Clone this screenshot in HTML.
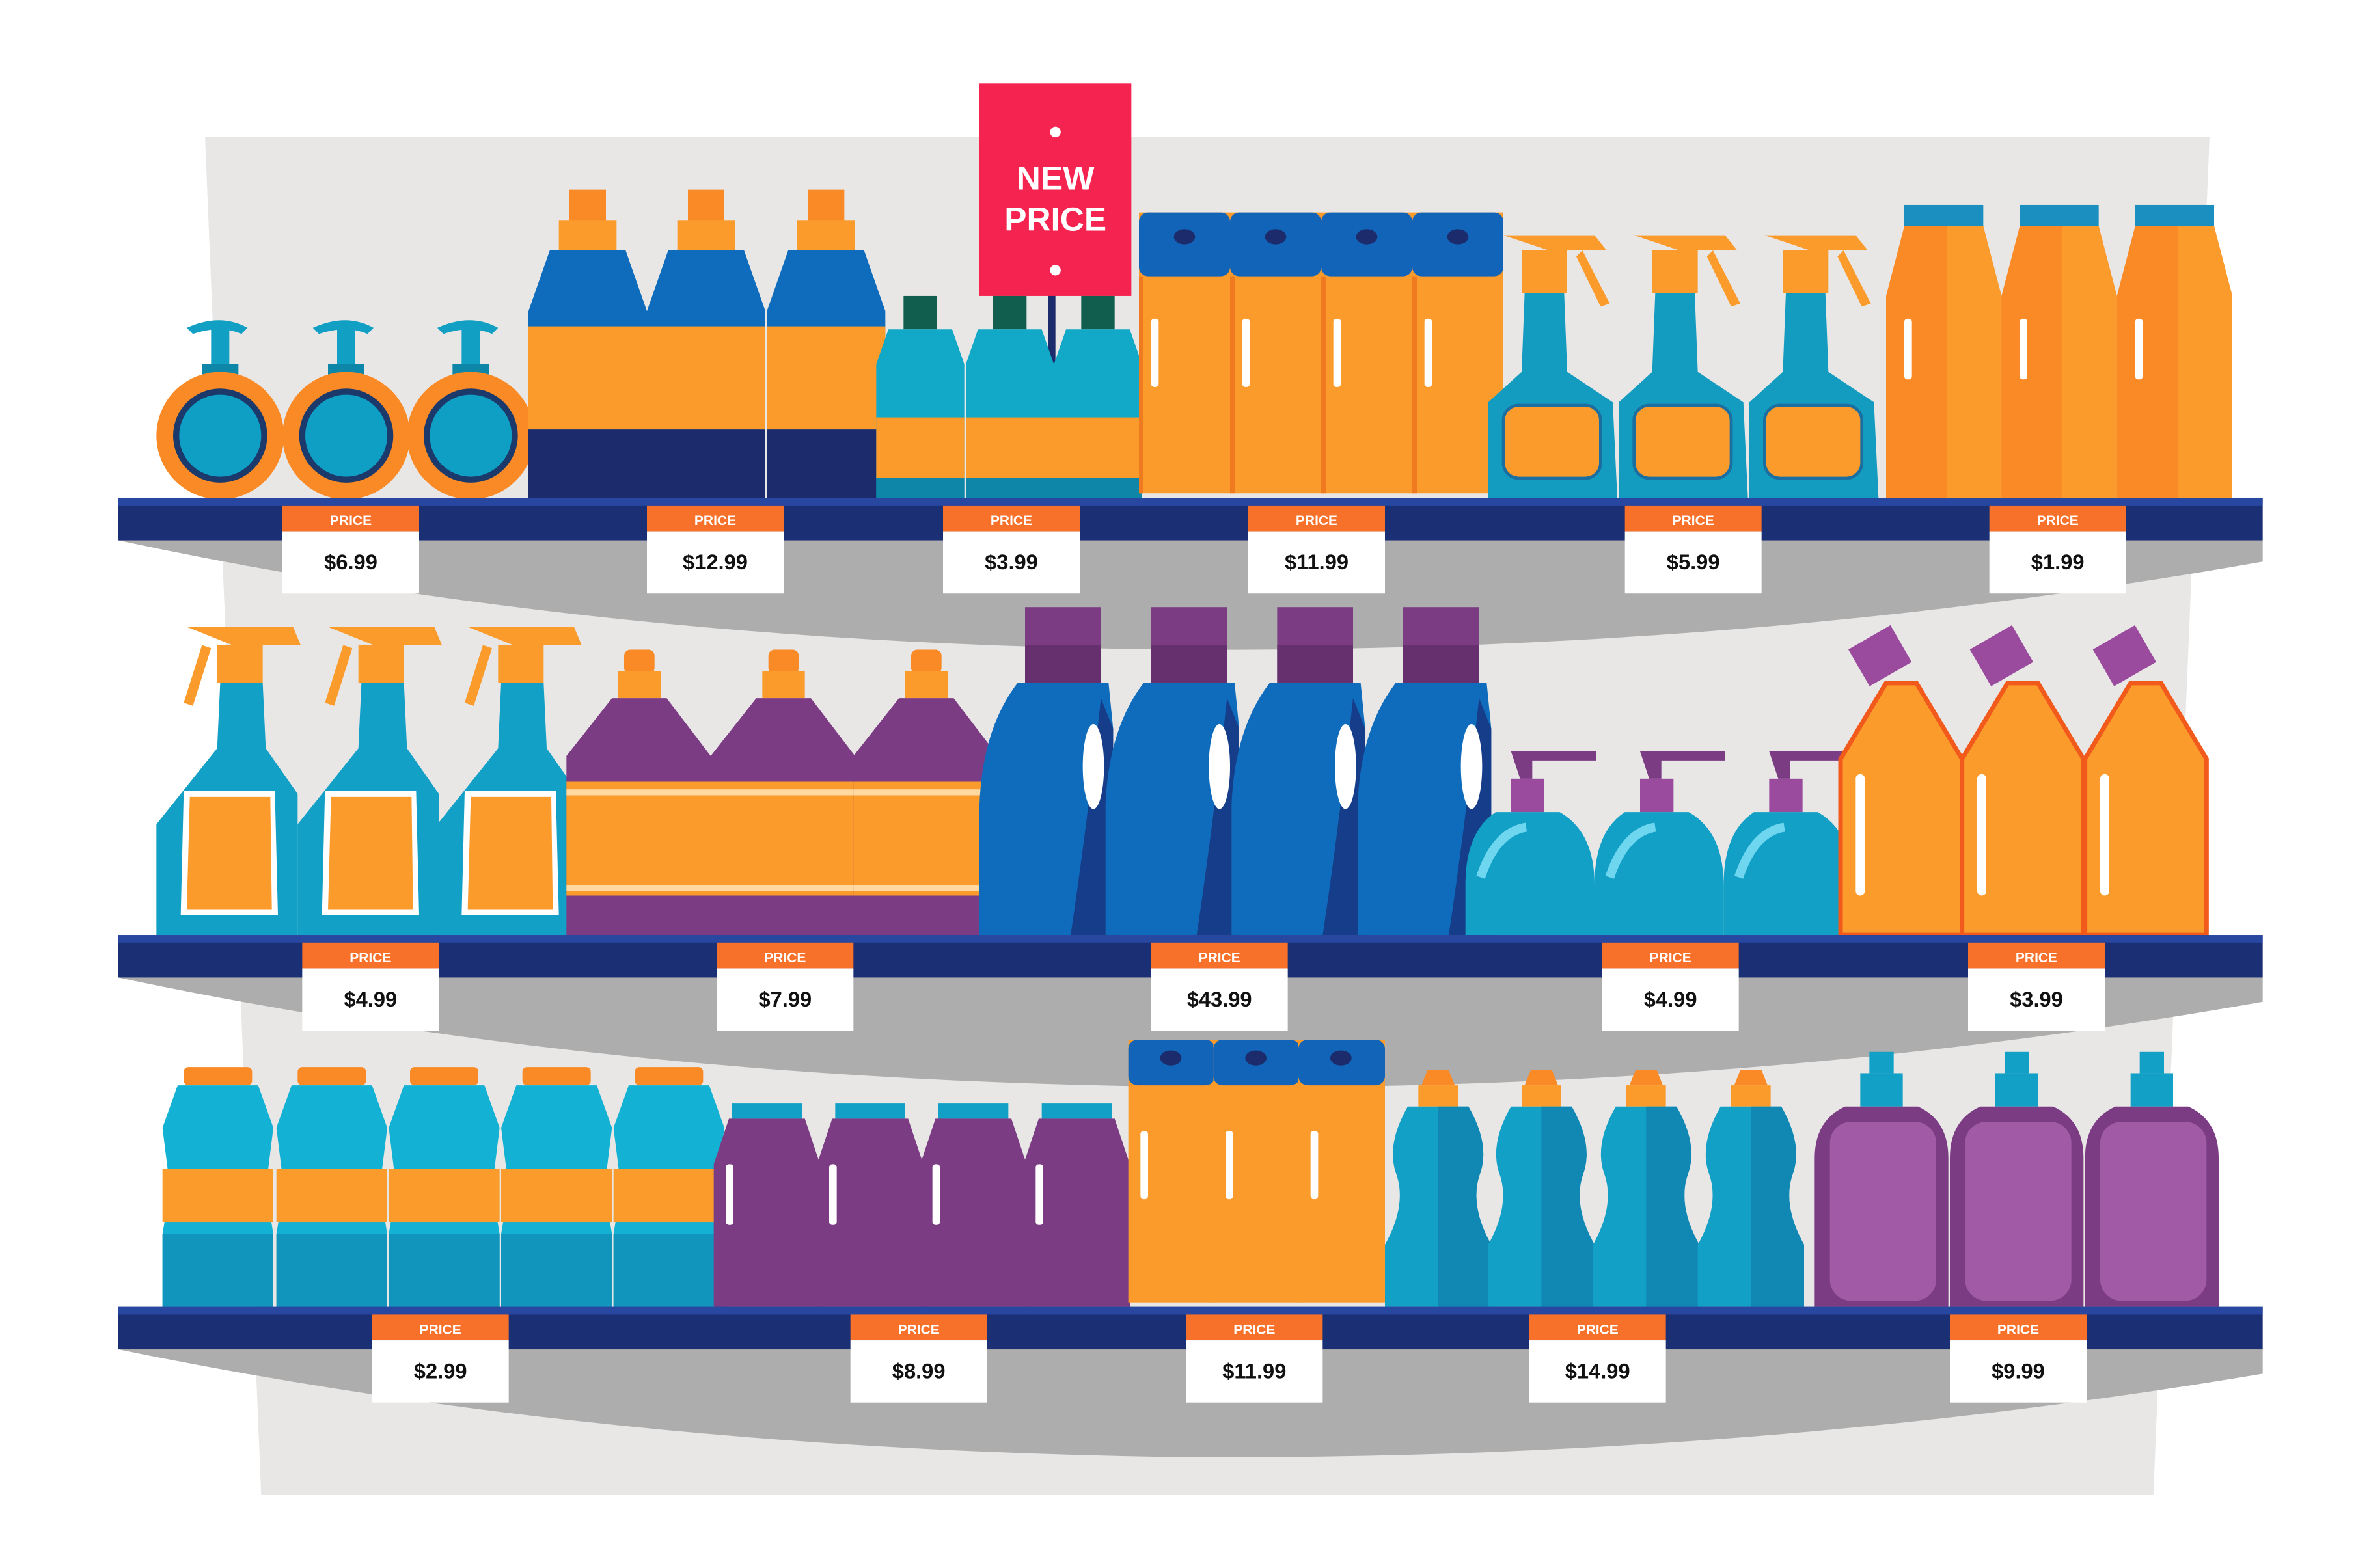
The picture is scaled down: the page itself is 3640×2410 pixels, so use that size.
<!DOCTYPE html>
<html><head><meta charset="utf-8">
<style>
html,body{margin:0;padding:0;background:#fff;}
svg{display:block;}
.t{font-family:"Liberation Sans",sans-serif;font-weight:bold;}
</style></head>
<body>
<svg width="3640" height="2410" viewBox="0 0 1560 1033" preserveAspectRatio="none" xmlns="http://www.w3.org/2000/svg">
<defs>
  <g id="round">
    <rect x="36" y="0" width="12" height="40" fill="#11a0c4"/>
    <path d="M20 4 Q42 -6 60 4 L56 8 Q42 2 24 8Z" fill="#11a0c4"/>
    <rect x="30" y="28" width="24" height="14" fill="#0d86a8"/>
    <circle cx="42" cy="75" r="42" fill="#f98a25"/>
    <circle cx="42" cy="75" r="31" fill="#1b3a6b"/>
    <circle cx="42" cy="75" r="27" fill="#0f9fc4"/>
  </g>
  <g id="bigblue">
    <rect x="27" y="0" width="24" height="22" fill="#f98a25"/>
    <rect x="20" y="20" width="38" height="20" fill="#fb9b2c"/>
    <path d="M14 40 L64 40 L78 80 L78 203 L0 203 L0 80Z" fill="#0f6cbc"/>
    <rect x="0" y="90" width="78" height="68" fill="#fb9b2c"/>
    <rect x="0" y="158" width="78" height="45" fill="#1b2b6b"/>
  </g>
  <g id="smteal">
    <rect x="18" y="0" width="22" height="22" fill="#115e4f"/>
    <path d="M8 22 L50 22 L58 45 L58 133 L0 133 L0 45Z" fill="#11a9c7"/>
    <rect x="0" y="80" width="58" height="40" fill="#fb9b2c"/>
    <rect x="0" y="120" width="58" height="13" fill="#0d86a8"/>
  </g>
  <g id="obox">
    <rect x="0" y="0" width="60" height="185" fill="#fb9b2c"/>
    <rect x="0" y="0" width="60" height="42" rx="6" fill="#1164b8"/>
    <ellipse cx="30" cy="16" rx="7" ry="5" fill="#1b2b6b"/>
    <rect x="8" y="70" width="5" height="45" rx="2" fill="#fff"/>
    <rect x="0" y="42" width="3" height="143" fill="#f07a20"/>
  </g>
  <g id="spray">
    <path d="M10 0 L70 0 L78 10 L40 10Z" fill="#fb9b2c"/>
    <path d="M62 10 L80 45 L74 47 L58 14Z" fill="#fb9b2c"/>
    <rect x="22" y="10" width="30" height="28" fill="#fb9b2c"/>
    <path d="M24 38 L50 38 L52 90 L82 110 L85 173 L0 173 L0 110 L22 90Z" fill="#139bc0"/>
    <rect x="10" y="112" width="64" height="48" rx="10" fill="#fb9b2c" stroke="#1b6fa0" stroke-width="2"/>
  </g>
  <g id="obottle">
    <rect x="12" y="0" width="52" height="14" fill="#1a8fc0"/>
    <path d="M12 14 L64 14 L76 60 L76 193 L0 193 L0 60Z" fill="#f98a25"/>
    <path d="M40 14 L64 14 L76 60 L76 193 L40 193Z" fill="#fb9b2c"/>
    <rect x="12" y="75" width="5" height="40" rx="2" fill="#fff"/>
  </g>
  <g id="spray2">
    <path d="M20 0 L90 0 L95 12 L50 12Z" fill="#fb9b2c"/>
    <path d="M30 12 L18 50 L24 52 L36 14Z" fill="#fb9b2c"/>
    <rect x="40" y="12" width="30" height="25" fill="#fb9b2c"/>
    <path d="M42 37 L70 37 L72 80 L93 110 L93 203 L0 203 L0 130 L40 80Z" fill="#13a0c6"/>
    <path d="M18 108 L78 108 L80 190 L16 190Z" fill="#fff"/>
    <path d="M22 112 L75 112 L76 186 L20 186Z" fill="#fb9b2c"/>
  </g>
  <g id="pjug">
    <rect x="38" y="0" width="20" height="16" rx="4" fill="#f98a25"/>
    <rect x="34" y="14" width="28" height="18" fill="#fb9b2c"/>
    <path d="M30 32 L66 32 L95 70 L95 188 L0 188 L0 70Z" fill="#7b3c84"/>
    <rect x="0" y="87" width="95" height="75" fill="#fb9b2c"/>
    <rect x="0" y="92" width="95" height="4" fill="#ffd9a0"/>
    <rect x="0" y="155" width="95" height="4" fill="#ffd9a0"/>
  </g>
  <g id="det">
    <rect x="30" y="0" width="50" height="50" fill="#7b3c84"/>
    <rect x="30" y="25" width="50" height="25" fill="#66306e"/>
    <path d="M25 50 L85 50 L88 80 L88 216 L0 216 L0 130 Q2 80 25 50Z" fill="#0f6cbc"/>
    <path d="M60 216 L88 216 L88 80 L80 60 Q70 150 60 216Z" fill="#163d8a"/>
    <ellipse cx="75" cy="105" rx="7" ry="28" fill="#fff"/>
  </g>
  <g id="pump">
    <path d="M30 2 L86 2 L86 8 L44 8 L44 20 L36 20Z" fill="#7b3c84"/>
    <rect x="30" y="20" width="22" height="22" fill="#9a4b9e"/>
    <path d="M20 42 L62 42 Q85 55 85 90 L85 123 L0 123 L0 90 Q0 55 20 42Z" fill="#13a0c6"/>
    <path d="M10 85 Q20 55 40 52" stroke="#6fd6ef" stroke-width="6" fill="none"/>
  </g>
  <g id="toilet">
    <rect x="10" y="-2" width="32" height="28" fill="#9a4b9e" transform="rotate(-30 26 12)"/>
    <path d="M30 30 L50 30 L80 80 L80 196 L0 196 L0 80Z" fill="#fb9b2c" stroke="#f25a1c" stroke-width="3"/>
    <rect x="10" y="90" width="6" height="80" rx="3" fill="#fff"/>
  </g>
  <g id="tb">
    <rect x="14" y="0" width="45" height="12" rx="3" fill="#f98a25"/>
    <path d="M10 12 L63 12 L73 40 L68 80 L73 110 L73 158 L0 158 L0 110 L5 80 L0 40Z" fill="#13b1d3"/>
    <rect x="0" y="67" width="73" height="35" fill="#fb9b2c"/>
    <rect x="0" y="110" width="73" height="48" fill="#1195bd"/>
  </g>
  <g id="pb">
    <rect x="12" y="0" width="46" height="10" fill="#13a0c6"/>
    <path d="M10 10 L60 10 L70 40 L70 134 L0 134 L0 40Z" fill="#7b3c84"/>
    <rect x="8" y="40" width="5" height="40" rx="2" fill="#fff"/>
  </g>
  <g id="obox2">
    <rect x="0" y="0" width="57" height="173" fill="#fb9b2c"/>
    <rect x="0" y="0" width="57" height="30" rx="6" fill="#1164b8"/>
    <ellipse cx="28" cy="12" rx="7" ry="5" fill="#1b2b6b"/>
    <rect x="8" y="60" width="5" height="45" rx="2" fill="#fff"/>
  </g>
  <g id="wavy">
    <path d="M28 0 L42 0 L46 10 L24 10Z" fill="#f98a25"/>
    <rect x="22" y="10" width="26" height="14" fill="#fb9b2c"/>
    <path d="M15 24 L55 24 Q70 50 62 70 Q56 90 70 115 L70 156 L0 156 L0 115 Q14 90 8 70 Q0 50 15 24Z" fill="#13a0c6"/>
    <path d="M35 24 L55 24 Q70 50 62 70 Q56 90 70 115 L70 156 L35 156Z" fill="#1088b3"/>
  </g>
  <g id="bp">
    <rect x="36" y="0" width="16" height="14" fill="#13a0c6"/>
    <rect x="30" y="14" width="28" height="22" fill="#13a0c6"/>
    <path d="M20 36 L68 36 Q88 45 88 70 L88 168 L0 168 L0 70 Q0 45 20 36Z" fill="#7b3c84"/>
    <rect x="10" y="46" width="70" height="118" rx="14" fill="#a05aa6"/>
  </g>
  <g id="tagbox">
    <rect x="-45" y="0" width="90" height="17" fill="#f7712a"/>
    <rect x="-45" y="17" width="90" height="41" fill="#fff"/>
  </g>
</defs>

<polygon points="135,90 1455,90 1418,985 172,985" fill="#e8e7e6"/>

<path d="M78 356 L1490 356 L1490 370 Q1150 430 780 428 Q400 425 78 356Z" fill="#adadad"/>
<path d="M78 644 L1490 644 L1490 660 Q1150 720 780 716 Q400 712 78 644Z" fill="#adadad"/>
<path d="M78 889 L1490 889 L1490 905 Q1150 962 780 960 Q400 955 78 889Z" fill="#adadad"/>

<rect x="690" y="190" width="5" height="140" fill="#1b2b6b"/>
<rect x="645" y="55" width="100" height="140" fill="#f5234f"/>
<circle cx="695" cy="87" r="3.5" fill="#fff"/>
<circle cx="695" cy="178" r="3.5" fill="#fff"/>
<text x="695" y="125" class="t" font-size="22" fill="#fff" text-anchor="middle">NEW</text>
<text x="695" y="152" class="t" font-size="22" fill="#fff" text-anchor="middle">PRICE</text>

<use href="#round" x="103" y="212"/>
<use href="#round" x="186" y="212"/>
<use href="#round" x="268" y="212"/>
<use href="#bigblue" x="348" y="125"/>
<use href="#bigblue" x="426" y="125"/>
<use href="#bigblue" x="505" y="125"/>
<use href="#smteal" x="577" y="195"/>
<use href="#smteal" x="636" y="195"/>
<use href="#smteal" x="694" y="195"/>
<use href="#obox" x="750" y="140"/>
<use href="#obox" x="810" y="140"/>
<use href="#obox" x="870" y="140"/>
<use href="#obox" x="930" y="140"/>
<use href="#spray" x="980" y="155"/>
<use href="#spray" x="1066" y="155"/>
<use href="#spray" x="1152" y="155"/>
<use href="#obottle" x="1242" y="135"/>
<use href="#obottle" x="1318" y="135"/>
<use href="#obottle" x="1394" y="135"/>

<use href="#spray2" x="103" y="413"/>
<use href="#spray2" x="196" y="413"/>
<use href="#spray2" x="288" y="413"/>
<use href="#pjug" x="373" y="428"/>
<use href="#pjug" x="468" y="428"/>
<use href="#pjug" x="562" y="428"/>
<use href="#det" x="645" y="400"/>
<use href="#det" x="728" y="400"/>
<use href="#det" x="811" y="400"/>
<use href="#det" x="894" y="400"/>
<use href="#pump" x="965" y="493"/>
<use href="#pump" x="1050" y="493"/>
<use href="#pump" x="1135" y="493"/>
<use href="#toilet" x="1212" y="420"/>
<use href="#toilet" x="1292" y="420"/>
<use href="#toilet" x="1373" y="420"/>

<use href="#tb" x="107" y="703"/>
<use href="#tb" x="182" y="703"/>
<use href="#tb" x="256" y="703"/>
<use href="#tb" x="330" y="703"/>
<use href="#tb" x="404" y="703"/>
<use href="#pb" x="470" y="727"/>
<use href="#pb" x="538" y="727"/>
<use href="#pb" x="606" y="727"/>
<use href="#pb" x="674" y="727"/>
<use href="#obox2" x="743" y="685"/>
<use href="#obox2" x="799" y="685"/>
<use href="#obox2" x="855" y="685"/>
<use href="#wavy" x="912" y="705"/>
<use href="#wavy" x="980" y="705"/>
<use href="#wavy" x="1049" y="705"/>
<use href="#wavy" x="1118" y="705"/>
<use href="#bp" x="1195" y="693"/>
<use href="#bp" x="1284" y="693"/>
<use href="#bp" x="1373" y="693"/>

<rect x="78" y="328" width="1412" height="28" fill="#1b2f74"/>
<rect x="78" y="328" width="1412" height="5" fill="#2747a0"/>
<rect x="78" y="616" width="1412" height="28" fill="#1b2f74"/>
<rect x="78" y="616" width="1412" height="5" fill="#2747a0"/>
<rect x="78" y="861" width="1412" height="28" fill="#1b2f74"/>
<rect x="78" y="861" width="1412" height="5" fill="#2747a0"/>

<g class="t" text-anchor="middle">
<use href="#tagbox" x="231" y="333"/><text x="231" y="346" font-size="9" fill="#fff">PRICE</text><text x="231" y="375" font-size="14" fill="#111">$6.99</text>
<use href="#tagbox" x="471" y="333"/><text x="471" y="346" font-size="9" fill="#fff">PRICE</text><text x="471" y="375" font-size="14" fill="#111">$12.99</text>
<use href="#tagbox" x="666" y="333"/><text x="666" y="346" font-size="9" fill="#fff">PRICE</text><text x="666" y="375" font-size="14" fill="#111">$3.99</text>
<use href="#tagbox" x="867" y="333"/><text x="867" y="346" font-size="9" fill="#fff">PRICE</text><text x="867" y="375" font-size="14" fill="#111">$11.99</text>
<use href="#tagbox" x="1115" y="333"/><text x="1115" y="346" font-size="9" fill="#fff">PRICE</text><text x="1115" y="375" font-size="14" fill="#111">$5.99</text>
<use href="#tagbox" x="1355" y="333"/><text x="1355" y="346" font-size="9" fill="#fff">PRICE</text><text x="1355" y="375" font-size="14" fill="#111">$1.99</text>

<use href="#tagbox" x="244" y="621"/><text x="244" y="634" font-size="9" fill="#fff">PRICE</text><text x="244" y="663" font-size="14" fill="#111">$4.99</text>
<use href="#tagbox" x="517" y="621"/><text x="517" y="634" font-size="9" fill="#fff">PRICE</text><text x="517" y="663" font-size="14" fill="#111">$7.99</text>
<use href="#tagbox" x="803" y="621"/><text x="803" y="634" font-size="9" fill="#fff">PRICE</text><text x="803" y="663" font-size="14" fill="#111">$43.99</text>
<use href="#tagbox" x="1100" y="621"/><text x="1100" y="634" font-size="9" fill="#fff">PRICE</text><text x="1100" y="663" font-size="14" fill="#111">$4.99</text>
<use href="#tagbox" x="1341" y="621"/><text x="1341" y="634" font-size="9" fill="#fff">PRICE</text><text x="1341" y="663" font-size="14" fill="#111">$3.99</text>

<use href="#tagbox" x="290" y="866"/><text x="290" y="879" font-size="9" fill="#fff">PRICE</text><text x="290" y="908" font-size="14" fill="#111">$2.99</text>
<use href="#tagbox" x="605" y="866"/><text x="605" y="879" font-size="9" fill="#fff">PRICE</text><text x="605" y="908" font-size="14" fill="#111">$8.99</text>
<use href="#tagbox" x="826" y="866"/><text x="826" y="879" font-size="9" fill="#fff">PRICE</text><text x="826" y="908" font-size="14" fill="#111">$11.99</text>
<use href="#tagbox" x="1052" y="866"/><text x="1052" y="879" font-size="9" fill="#fff">PRICE</text><text x="1052" y="908" font-size="14" fill="#111">$14.99</text>
<use href="#tagbox" x="1329" y="866"/><text x="1329" y="879" font-size="9" fill="#fff">PRICE</text><text x="1329" y="908" font-size="14" fill="#111">$9.99</text>
</g>
</svg>
</body></html>
